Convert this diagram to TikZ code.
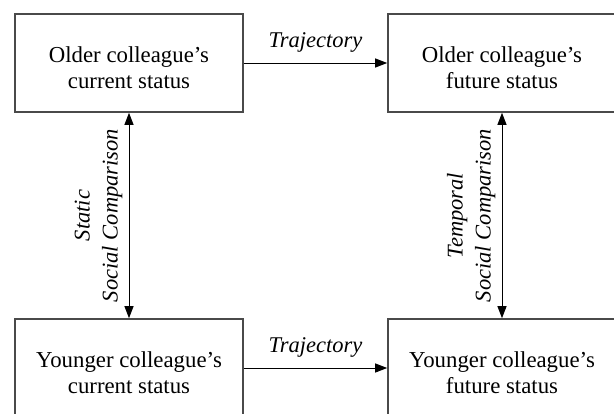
\documentclass[tikz,border=0pt]{standalone}
\usepackage{fontspec}
\setmainfont{Liberation Serif}
\usetikzlibrary{arrows.meta}
\definecolor{boxgray}{HTML}{4A4A4A}
\newcommand{\topstrut}{\rule{0pt}{25pt}}
\begin{document}
\begin{tikzpicture}[x=1pt,y=-1pt,
  statusbox/.style={draw=boxgray, line width=1.6pt, minimum width=228pt, minimum height=98pt,
    align=center, inner sep=0pt, font=\fontsize{22.8}{26}\selectfont},
  link/.style={line width=1pt, -{Triangle[length=12pt,width=9pt]}},
  dlink/.style={line width=1pt, {Triangle[length=12pt,width=9pt]}-{Triangle[length=12pt,width=9pt]}},
  lbl/.style={font=\fontsize{22.5}{28}\selectfont\itshape, align=center}]
\useasboundingbox (0,0) rectangle (614,413);
\begin{scope}
\clip (0,0) rectangle (614,413);
\node[statusbox] (oc) at (129,63) {\topstrut Older colleague’s\\current status};
\node[statusbox] (of) at (502,63) {\topstrut Older colleague’s\\future status};
\node[statusbox] (yc) at (129,368) {\topstrut Younger colleague’s\\current status};
\node[statusbox] (yf) at (502,368) {\topstrut Younger colleague’s\\future status};
\draw[link] (oc.east) -- node[lbl, above, inner sep=10pt] {Trajectory} (of.west);
\draw[link] (yc.east) -- node[lbl, above, inner sep=10pt] {Trajectory} (yf.west);
\draw[dlink] (oc.south) -- node[lbl, rotate=90, anchor=south, inner sep=6pt] {Static\\Social Comparison} (yc.north);
\draw[dlink] (of.south) -- node[lbl, rotate=90, anchor=south, inner sep=6pt] {Temporal\\Social Comparison} (yf.north);
\end{scope}
\end{tikzpicture}
\end{document}
